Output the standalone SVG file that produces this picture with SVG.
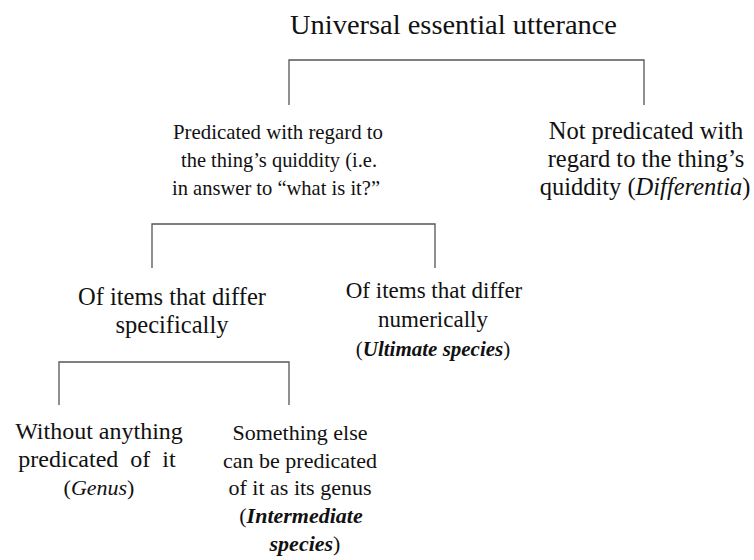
<svg xmlns="http://www.w3.org/2000/svg" width="754" height="560" viewBox="0 0 754 560">
<style>
text{font-family:"Liberation Serif","Times New Roman",serif;fill:#111;text-anchor:middle}
.t{font-size:27px}
.s21{font-size:21px}
.s215{font-size:21.5px}
.s22{font-size:22px}
.s23{font-size:23px}
.s24{font-size:24px}
.s245{font-size:24.5px}
.i{font-style:italic}
.bi{font-style:italic;font-weight:bold}
.c{fill:none;stroke:#555;stroke-width:1.3}
</style>
<rect width="754" height="560" fill="#fff"/>
<g id="connectors">
<path class="c" d="M289 105V60H644V105"/>
<path class="c" d="M152 268V224H435V268"/>
<path class="c" d="M59 405V362H289V405"/>
</g>
<g id="root"><text class="t" x="453.5" y="34" textLength="327" lengthAdjust="spacingAndGlyphs">Universal essential utterance</text></g>
<g id="quiddity"><text class="s215" x="278" y="139" textLength="210" lengthAdjust="spacingAndGlyphs">Predicated with regard to</text><text class="s215" x="279" y="167" textLength="196" lengthAdjust="spacingAndGlyphs">the thing’s quiddity (i.e.</text><text class="s215" x="276" y="195" textLength="208" lengthAdjust="spacingAndGlyphs">in answer to “what is it?”</text></g>
<g id="differentia"><text class="s245" x="646" y="139">Not predicated with</text><text class="s245" x="646" y="167">regard to the thing’s</text><text class="s245" x="645" y="195">quiddity (<tspan class="i">Differentia</tspan>)</text></g>
<g id="specifically"><text class="s245" x="172" y="305">Of items that differ</text><text class="s245" x="172" y="333">specifically</text></g>
<g id="numerically"><text class="s23" x="434" y="298">Of items that differ</text><text class="s23" x="433" y="327">numerically</text><text class="s21" x="433" y="356">(<tspan class="bi">Ultimate species</tspan>)</text></g>
<g id="genus"><text class="s24" x="99" y="439">Without anything</text><text class="s24" x="97" y="467" word-spacing="6">predicated of it</text><text class="s22" x="99" y="495">(<tspan class="i">Genus</tspan>)</text></g>
<g id="intermediate"><text class="s22" x="300" y="440">Something else</text><text class="s22" x="300" y="467.5">can be predicated</text><text class="s22" x="300" y="495">of it as its genus</text><text class="s22" x="301" y="523">(<tspan class="bi">Intermediate</tspan></text><text class="s22" x="305" y="551"><tspan class="bi">species</tspan>)</text></g>
</svg>
